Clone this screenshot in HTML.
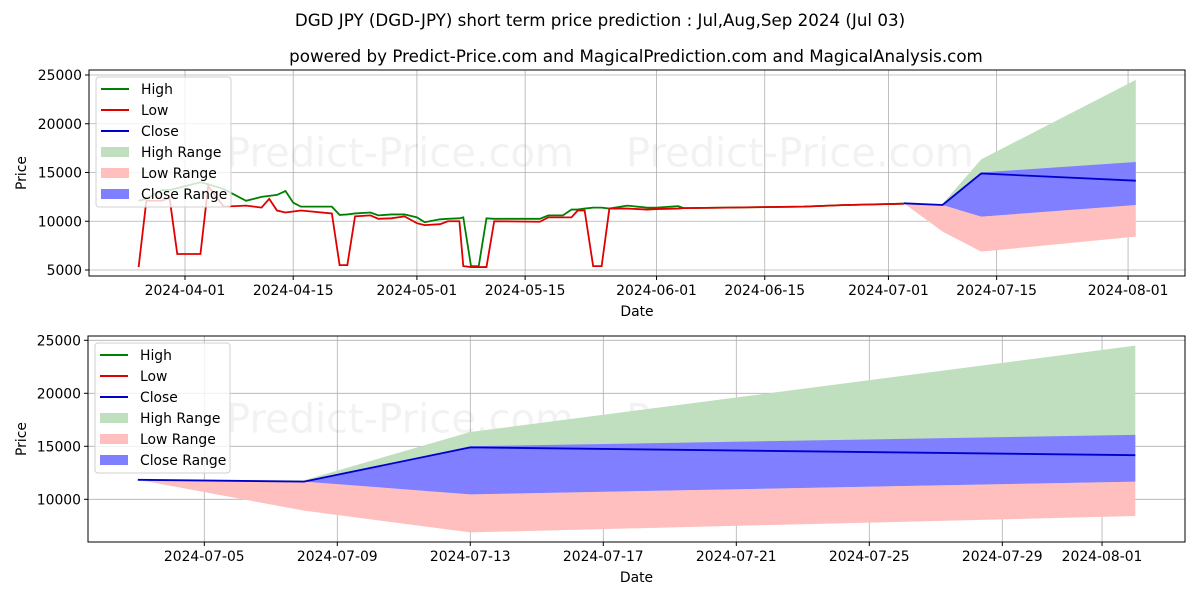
<!DOCTYPE html>
<html><head><meta charset="utf-8"><style>
body{margin:0;background:#fff;}
svg{display:block;font-family:"DejaVu Sans","Liberation Sans",sans-serif;}
</style></head><body>
<svg id="c" width="1200" height="600" viewBox="0 0 1200 600" xmlns="http://www.w3.org/2000/svg">
<rect width="1200" height="600" fill="#fff"/>
<text x="600" y="26" text-anchor="middle" font-size="16.7">DGD JPY (DGD-JPY) short term price prediction : Jul,Aug,Sep 2024 (Jul 03)</text>
<text x="636" y="62" text-anchor="middle" font-size="16.7">powered by Predict-Price.com and MagicalPrediction.com and MagicalAnalysis.com</text>
<g id="top"></g><g id="bot"></g>
</svg>
<script>
const histDates=[-6,-5,-3,-2,-1,2,3,5,7.9,9.9,10.9,11.9,13,14,15,19,20,21,22,24,25,26.7,28.4,30,31,33,34,35.5,36,37,38,39,40,45.9,47,48.9,50,50.8,51.7,52.8,53.9,54.9,57.2,59.8,61,63.8,64.5,70,80,85,93];
const highVals=[12100,12300,13200,13200,13400,14000,13800,13300,12100,12500,12600,12700,13100,11900,11500,11500,10650,10700,10800,10900,10600,10700,10700,10400,9900,10200,10250,10300,10400,5400,5400,10300,10250,10250,10600,10600,11200,11200,11300,11400,11400,11300,11600,11400,11400,11550,11350,11400,11500,11650,11800];
const lowVals=[5300,12100,12100,12400,6640,6640,13600,11500,11600,11400,12300,11100,10900,11000,11100,10800,5500,5500,10500,10600,10250,10300,10500,9800,9600,9700,10000,10000,5400,5300,5300,5300,10000,9950,10400,10400,10400,11100,11100,5400,5400,11300,11300,11200,11250,11300,11350,11400,11500,11650,11800];
const fcDates=[93,98,103,123];
const closeVals=[11840,11670,14900,14160];
const highRangeTop=[11840,11800,16350,24500];
const closeRangeTop=[11840,11670,15000,16080];
const closeRangeBot=[11840,11670,10470,11670];
const lowRangeBot=[11840,8930,6880,8420];
const topXTicks=[0,14,30,44,61,75,91,105,122];
const topXLabels=["2024-04-01","2024-04-15","2024-05-01","2024-05-15","2024-06-01","2024-06-15","2024-07-01","2024-07-15","2024-08-01"];
const botXTicks=[95,99,103,107,111,115,119,122];
const botXLabels=["2024-07-05","2024-07-09","2024-07-13","2024-07-17","2024-07-21","2024-07-25","2024-07-29","2024-08-01"];
const yTicks=[5000,10000,15000,20000,25000];
const botYTicks=[10000,15000,20000,25000];

const NS="http://www.w3.org/2000/svg";
function mk(p,t,a){const e=document.createElementNS(NS,t);for(const k in a)e.setAttribute(k,a[k]);p.appendChild(e);return e;}
function draw(g,ax,xs,ys,xT,xL,yT,full){
  mk(g,'rect',{x:ax.l,y:ax.t,width:ax.r-ax.l,height:ax.b-ax.t,fill:'#fff'});
  xT.forEach((d,i)=>{const x=xs(d);
    const gl=mk(g,'line',{x1:x,x2:x,y1:ax.t,y2:ax.b,stroke:'#b0b0b0','stroke-width':0.8});
    
    mk(g,'line',{x1:x,x2:x,y1:ax.b,y2:ax.b+4,stroke:'#000'});
    const t=mk(g,'text',{x:x,y:ax.b+19,'text-anchor':'middle','font-size':13.9});t.textContent=xL[i];
    });
  yT.forEach(v=>{const y=ys(v);
    const gl=mk(g,'line',{x1:ax.l,x2:ax.r,y1:y,y2:y,stroke:'#b0b0b0','stroke-width':0.8});
    
    mk(g,'line',{x1:ax.l-4,x2:ax.l,y1:y,y2:y,stroke:'#000'});
    const t=mk(g,'text',{x:ax.l-7,y:y+5,'text-anchor':'end','font-size':13.9});t.textContent=v;
    });
  [[400,ax.t+(ax.b-ax.t)*0.4],[800,ax.t+(ax.b-ax.t)*0.4]].forEach(p=>{const t=mk(g,'text',{x:p[0],y:p[1]+14,'text-anchor':'middle','font-size':40,fill:'#000','fill-opacity':0.05});t.textContent='Predict-Price.com';
    });
  const poly=(top,bot,fill,name)=>{let pts=fcDates.map((d,i)=>xs(d)+','+ys(top[i]));
    for(let i=fcDates.length-1;i>=0;i--)pts.push(xs(fcDates[i])+','+ys(bot[i]));
    const p=mk(g,'polygon',{points:pts.join(' '),fill:fill});
    };
  poly(highRangeTop,closeRangeBot,'#bfdfbf','high-range-area');
  poly(closeRangeBot,lowRangeBot,'#ffbfbf','low-range-area');
  poly(closeRangeTop,closeRangeBot,'#7f7fff','close-range-area');
  const line=(dx,vy,col,name)=>{const p=mk(g,'polyline',{points:dx.map((d,i)=>xs(d)+','+ys(vy[i])).join(' '),fill:'none',stroke:col,'stroke-width':1.8});
    };
  if(full){line(histDates,highVals,'#008000','high-line');line(histDates,lowVals,'#e00000','low-line');}
  line(fcDates,closeVals,'#0000cc','close-line');
  mk(g,'rect',{x:ax.l,y:ax.t,width:ax.r-ax.l,height:ax.b-ax.t,fill:'none',stroke:'#000','stroke-width':1});
  const xt=mk(g,'text',{x:(ax.l+ax.r)/2,y:ax.b+40,'text-anchor':'middle','font-size':13.9});xt.textContent='Date';
  
  const yt=mk(g,'text',{x:26,y:(ax.t+ax.b)/2,'text-anchor':'middle','font-size':13.9,transform:`rotate(-90 26 ${(ax.t+ax.b)/2})`});yt.textContent='Price';
  
  const lg=mk(g,'g',{});
  
  const lx=ax.l+7,ly=ax.t+7;
  mk(lg,'rect',{x:lx,y:ly,width:135,height:130,rx:3,fill:'#fff','fill-opacity':0.8,stroke:'#d0d0d0'});
  const items=[['High','#008000',0],['Low','#e00000',0],['Close','#0000cc',0],['High Range','#bfdfbf',1],['Low Range','#ffbfbf',1],['Close Range','#7f7fff',1]];
  items.forEach((it,i)=>{const y=ly+12+i*21;
    const e=mk(lg,'g',{});
    if(it[2])mk(e,'rect',{x:lx+5,y:y-5,width:28,height:10,fill:it[1]});
    else mk(e,'line',{x1:lx+5,x2:lx+33,y1:y,y2:y,stroke:it[1],'stroke-width':2});
    const t=mk(e,'text',{x:lx+45,y:y+5,'font-size':13.9});t.textContent=it[0];});
}
const tax={l:89,r:1185,t:70,b:276};
draw(document.getElementById('top'),tax,d=>185+7.73*d,v=>270-(v-5000)*0.00975,topXTicks,topXLabels,yTicks,true);
const bax={l:88,r:1185,t:336,b:542};
draw(document.getElementById('bot'),bax,d=>204.3+33.25*(d-95),v=>499.3-(v-10000)*0.0106,botXTicks,botXLabels,botYTicks,false);
</script>
</body></html>
